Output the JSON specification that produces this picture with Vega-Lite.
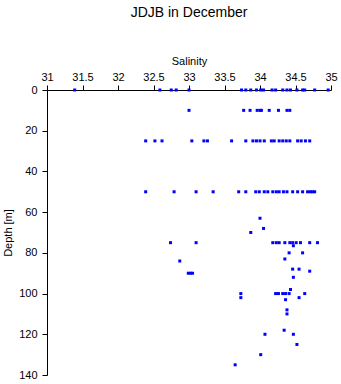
{
  "$schema": "https://vega.github.io/schema/vega-lite/v6.json",
  "width": 284,
  "height": 285,
  "autosize": {"type": "none"},
  "padding": {"left": 47, "top": 90, "right": 10, "bottom": 9},
  "background": "white",
  "title": {"text": "JDJB in December", "font": "Liberation Sans", "fontSize": 14, "fontWeight": "normal", "color": "black", "anchor": "middle", "offset": 35},
  "config": {"view": {"stroke": null}, "axis": {"grid": false, "domainColor": "black", "tickColor": "black", "labelColor": "black", "titleColor": "black", "labelFont": "Liberation Sans", "titleFont": "Liberation Sans", "labelFontSize": 11, "titleFontSize": 11, "titleFontWeight": "normal"}},
  "data": {"values": [
    {"s": 31.39, "d": 0}, {"s": 32.59, "d": 0}, {"s": 32.75, "d": 0}, {"s": 32.82, "d": 0}, {"s": 33.0, "d": 0}, {"s": 33.74, "d": 0}, {"s": 33.8, "d": 0}, {"s": 33.87, "d": 0}, {"s": 33.95, "d": 0}, {"s": 34.01, "d": 0}, {"s": 34.05, "d": 0}, {"s": 34.17, "d": 0}, {"s": 34.22, "d": 0}, {"s": 34.32, "d": 0}, {"s": 34.38, "d": 0}, {"s": 34.43, "d": 0}, {"s": 34.52, "d": 0}, {"s": 34.6, "d": 0}, {"s": 34.63, "d": 0}, {"s": 34.77, "d": 0}, {"s": 34.96, "d": 0},
    {"s": 33.0, "d": 10}, {"s": 33.77, "d": 10}, {"s": 33.86, "d": 10}, {"s": 33.96, "d": 10}, {"s": 34.0, "d": 10}, {"s": 34.02, "d": 10}, {"s": 34.13, "d": 10}, {"s": 34.26, "d": 10}, {"s": 34.38, "d": 10}, {"s": 34.42, "d": 10},
    {"s": 32.39, "d": 25}, {"s": 32.52, "d": 25}, {"s": 32.62, "d": 25}, {"s": 33.04, "d": 25}, {"s": 33.21, "d": 25}, {"s": 33.26, "d": 25}, {"s": 33.6, "d": 25}, {"s": 33.8, "d": 25}, {"s": 33.9, "d": 25}, {"s": 33.95, "d": 25}, {"s": 34.0, "d": 25}, {"s": 34.06, "d": 25}, {"s": 34.16, "d": 25}, {"s": 34.2, "d": 25}, {"s": 34.27, "d": 25}, {"s": 34.32, "d": 25}, {"s": 34.37, "d": 25}, {"s": 34.42, "d": 25}, {"s": 34.53, "d": 25}, {"s": 34.58, "d": 25}, {"s": 34.64, "d": 25}, {"s": 34.7, "d": 25},
    {"s": 32.39, "d": 50}, {"s": 32.79, "d": 50}, {"s": 33.1, "d": 50}, {"s": 33.34, "d": 50}, {"s": 33.7, "d": 50}, {"s": 33.8, "d": 50}, {"s": 33.94, "d": 50}, {"s": 33.99, "d": 50}, {"s": 34.06, "d": 50}, {"s": 34.11, "d": 50}, {"s": 34.18, "d": 50}, {"s": 34.23, "d": 50}, {"s": 34.27, "d": 50}, {"s": 34.33, "d": 50}, {"s": 34.38, "d": 50}, {"s": 34.46, "d": 50}, {"s": 34.53, "d": 50}, {"s": 34.6, "d": 50}, {"s": 34.67, "d": 50}, {"s": 34.71, "d": 50}, {"s": 34.74, "d": 50}, {"s": 34.77, "d": 50},
    {"s": 34.0, "d": 63}, {"s": 34.05, "d": 68}, {"s": 33.87, "d": 70},
    {"s": 32.74, "d": 75}, {"s": 33.1, "d": 75}, {"s": 34.18, "d": 75}, {"s": 34.23, "d": 75}, {"s": 34.27, "d": 75}, {"s": 34.35, "d": 75}, {"s": 34.42, "d": 75}, {"s": 34.46, "d": 75}, {"s": 34.47, "d": 76.5}, {"s": 34.51, "d": 75}, {"s": 34.57, "d": 75}, {"s": 34.7, "d": 75}, {"s": 34.81, "d": 75},
    {"s": 34.41, "d": 80}, {"s": 34.6, "d": 80}, {"s": 34.35, "d": 83}, {"s": 32.87, "d": 84}, {"s": 34.46, "d": 88}, {"s": 34.55, "d": 88}, {"s": 34.7, "d": 89}, {"s": 32.99, "d": 90}, {"s": 33.02, "d": 90}, {"s": 33.05, "d": 90}, {"s": 34.47, "d": 92},
    {"s": 34.43, "d": 98}, {"s": 33.73, "d": 100}, {"s": 34.22, "d": 100}, {"s": 34.26, "d": 100}, {"s": 34.32, "d": 100}, {"s": 34.36, "d": 100}, {"s": 34.41, "d": 100}, {"s": 34.63, "d": 100},
    {"s": 33.73, "d": 102}, {"s": 34.55, "d": 102}, {"s": 34.36, "d": 103}, {"s": 34.38, "d": 108}, {"s": 34.38, "d": 110}, {"s": 34.34, "d": 118}, {"s": 34.07, "d": 120}, {"s": 34.47, "d": 120}, {"s": 34.52, "d": 125}, {"s": 34.01, "d": 130}, {"s": 33.65, "d": 135}
  ]},
  "mark": {"type": "point", "shape": "square", "filled": true, "size": 9, "color": "#0000ff", "opacity": 1},
  "encoding": {
    "x": {"field": "s", "type": "quantitative", "title": "Salinity", "scale": {"domain": [31, 35], "nice": false, "zero": false},
      "axis": {"orient": "top", "values": [31, 31.5, 32, 32.5, 33, 33.5, 34, 34.5, 35], "format": "~g", "tickSize": 5, "labelPadding": 3, "titlePadding": 5, "labelFlush": false, "labelOverlap": false}},
    "y": {"field": "d", "type": "quantitative", "title": "Depth [m]", "scale": {"domain": [0, 140], "reverse": true, "nice": false, "zero": false},
      "axis": {"values": [0, 20, 40, 60, 80, 100, 120, 140], "tickSize": 5, "labelPadding": 5, "titlePadding": 5, "labelFlush": false}}
  }
}
